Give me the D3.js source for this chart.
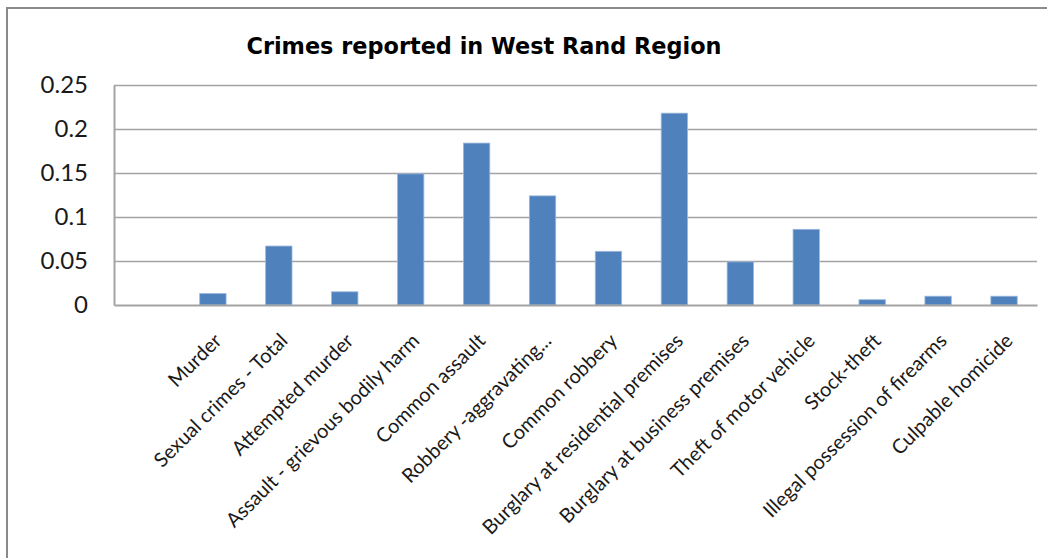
<!DOCTYPE html>
<html>
<head>
<meta charset="utf-8">
<script src="https://cdn.jsdelivr.net/npm/d3@7/dist/d3.min.js"></script>
<style>
  html, body { margin: 0; padding: 0; background: #ffffff; }
  svg { display: block; }
</style>
</head>
<body>
<svg id="chart" width="1047" height="558"></svg>
<script>
const title = "Crimes reported in West Rand Region";
const categories = [
  "",
  "Murder",
  "Sexual crimes - Total",
  "Attempted murder",
  "Assault - grievous bodily harm",
  "Common assault",
  "Robbery -aggravating...",
  "Common robbery",
  "Burglary at residential premises",
  "Burglary at business premises",
  "Theft of motor vehicle",
  "Stock-theft",
  "Illegal possession of firearms",
  "Culpable homicide"
];
const values = [null, 0.013, 0.067, 0.015, 0.149, 0.184, 0.124, 0.061, 0.218, 0.049, 0.086, 0.006, 0.010, 0.010];
const yTicks = [0, 0.05, 0.1, 0.15, 0.2, 0.25];
const yTickLabels = ["0", "0.05", "0.1", "0.15", "0.2", "0.25"];

const svg = d3.select("#chart");
const W = 1047, H = 558;
const plot = { left: 114, right: 1037, top: 85, bottom: 305 };

// outer chart border (extends past right/bottom edges as in reference)
svg.append("rect")
  .attr("x", 7).attr("y", 8)
  .attr("width", W + 20).attr("height", H + 20)
  .attr("fill", "#ffffff")
  .attr("stroke", "#8a8a8a").attr("stroke-width", 2);

const x = d3.scaleBand()
  .domain(categories)
  .range([plot.left, plot.right])
  .paddingInner(0.6)
  .paddingOuter(0.3);

const y = d3.scaleLinear()
  .domain([0, 0.25])
  .range([plot.bottom, plot.top]);

// gridlines
svg.append("g")
  .selectAll("line")
  .data(yTicks.filter(d => d > 0))
  .join("line")
  .attr("x1", plot.left).attr("x2", plot.right)
  .attr("y1", d => Math.round(y(d)) + 0.5).attr("y2", d => Math.round(y(d)) + 0.5)
  .attr("stroke", "#a3a3a3").attr("stroke-width", 1.6);

// bars
svg.append("g")
  .selectAll("rect")
  .data(categories.map((c, i) => ({ c, v: values[i] })).filter(d => d.v != null))
  .join("rect")
  .attr("x", d => x(d.c))
  .attr("width", x.bandwidth())
  .attr("y", d => y(d.v))
  .attr("height", d => y(0) - y(d.v))
  .attr("fill", "#4f81bd")
  .attr("stroke", "#9bb8dd").attr("stroke-width", 0.8);

// y axis
const yAxis = d3.axisLeft(y)
  .tickValues(yTicks)
  .tickFormat((d, i) => yTickLabels[i])
  .tickSize(0)
  .tickPadding(26);
const gy = svg.append("g")
  .attr("transform", `translate(${plot.left},0)`)
  .call(yAxis);
gy.select(".domain").attr("stroke", "#a3a3a3").attr("stroke-width", 2);
gy.selectAll("text")
  .attr("font-family", "Lato, 'Open Sans', sans-serif")
  .attr("font-size", 24)
  .attr("fill", "#1a1a1a");

// x axis
const xAxis = d3.axisBottom(x).tickSize(0).tickPadding(0);
const gx = svg.append("g")
  .attr("transform", `translate(0,${plot.bottom})`)
  .call(xAxis);
gx.select(".domain").attr("stroke", "#a3a3a3").attr("stroke-width", 2);
gx.selectAll("text")
  .attr("font-family", "Lato, 'Open Sans', sans-serif")
  .attr("font-size", 20)
  .attr("fill", "#1a1a1a")
  .attr("text-anchor", "end")
  .attr("dy", null)
  .attr("y", 0)
  .attr("transform", "translate(10,37) rotate(-45)");

// title
svg.append("text")
  .attr("x", 484).attr("y", 54)
  .attr("text-anchor", "middle")
  .attr("font-family", "'DejaVu Sans', sans-serif")
  .attr("font-weight", "bold")
  .attr("font-size", 22.4)
  .attr("fill", "#000")
  .text(title);
</script>
</body>
</html>
